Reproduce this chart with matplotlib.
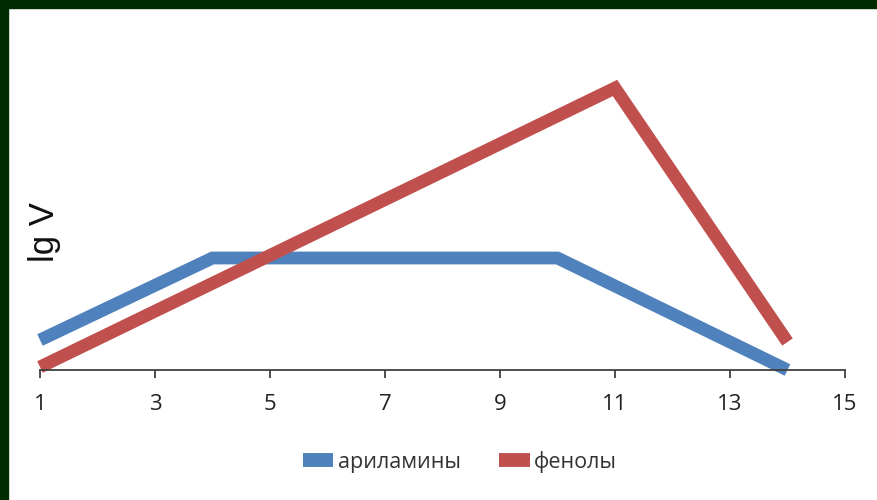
import matplotlib
matplotlib.use("Agg")
import matplotlib.pyplot as plt
from matplotlib.patches import Rectangle

plt.rcParams['font.family'] = ['Open Sans', 'DejaVu Sans']

# data (arbitrary lg V units)
arylamine_x = [1, 4, 10, 14]
arylamine_y = [0.30, 1.12, 1.12, 0.0]
phenol_x = [1, 11, 14]
phenol_y = [0.03, 2.82, 0.28]
xticks = [1, 3, 5, 7, 9, 11, 13, 15]
labels = ["ариламины", "фенолы"]

blue = "#4f81bd"
red = "#c0504d"

fig = plt.figure(figsize=(8.78, 5.0), dpi=100)
fig.patch.set_facecolor("white")

# dark green frame on top and left
fig.add_artist(Rectangle((0, 0), 8 / 878, 1, transform=fig.transFigure,
                         color="#002a00", zorder=10))
fig.add_artist(Rectangle((0, 1 - 8 / 500), 1, 8 / 500, transform=fig.transFigure,
                         color="#002a00", zorder=10))

ax = fig.add_axes([40 / 878, 130 / 500, 805 / 878, 340 / 500])
ax.plot(arylamine_x, arylamine_y, color=blue, lw=9.2, solid_joinstyle="miter",
        solid_capstyle="butt", clip_on=False, label=labels[0])
ax.plot(phenol_x, phenol_y, color=red, lw=9.2, solid_joinstyle="miter",
        solid_capstyle="butt", clip_on=False, label=labels[1])

ax.set_xlim(1, 15)
ax.set_ylim(0, 3.4)
ax.set_xticks(xticks)
ax.set_yticks([])
for s in ["top", "right", "left"]:
    ax.spines[s].set_visible(False)
ax.spines["bottom"].set_color("#404040")
ax.spines["bottom"].set_linewidth(1.3)
ax.tick_params(axis="x", direction="out", length=6, width=1.3, color="#404040",
               labelsize=16, labelcolor="#222222", pad=11)

fig.text(45 / 878, (500 - 232) / 500, "lg V", rotation=90, fontsize=25,
         ha="center", va="center", family="Liberation Sans", color="#111111")

leg = ax.legend(loc="center", bbox_to_anchor=(460 / 878, (500 - 462) / 500),
                bbox_transform=fig.transFigure, ncol=2, frameon=False,
                fontsize=15.5, handlelength=1.4, handleheight=0.7,
                handletextpad=0.2, columnspacing=1.8, labelcolor="#333333")
for h in leg.legend_handles:
    h.set_linewidth(10)
    h.set_solid_capstyle("butt")

fig.savefig("out.png", dpi=100)
